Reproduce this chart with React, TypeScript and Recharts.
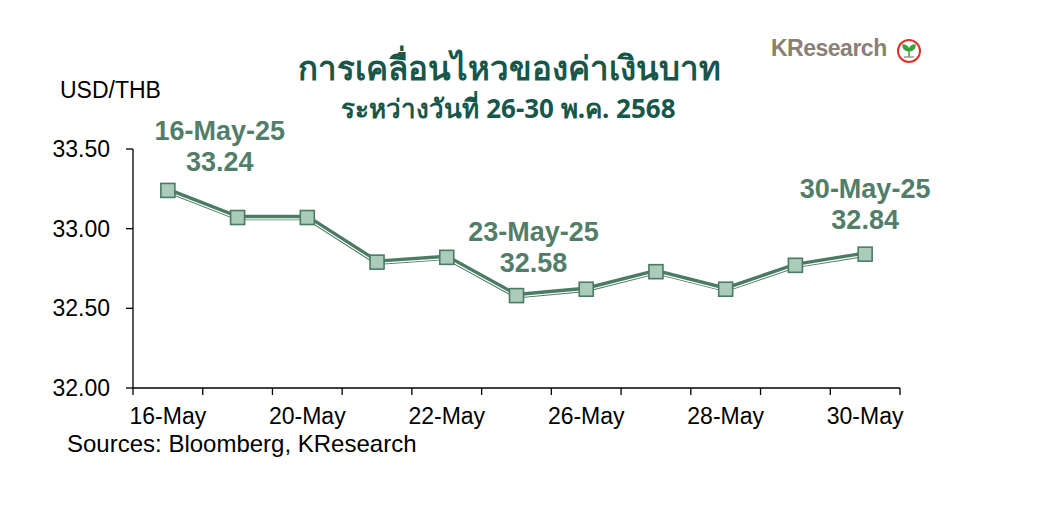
import { LineChart, XAxis, YAxis, Line, LabelList } from 'recharts';

const dates = ['16-May', '19-May', '20-May', '21-May', '22-May', '23-May', '26-May', '27-May', '28-May', '29-May', '30-May'];
const usdThb = [33.24, 33.07, 33.07, 32.79, 32.82, 32.58, 32.62, 32.73, 32.62, 32.77, 32.84];
const yTicks = [32, 32.5, 33, 33.5];
const noteIndex = [0, 5, 10];
const noteDates = ['16-May-25', '23-May-25', '30-May-25'];

const data = dates.map((d, i) => ({ idx: i, date: d, rate: usdThb[i] }));
const xTicks: number[] = [];
for (let i = -0.5; i <= dates.length - 0.5; i += 0.5) xTicks.push(i);

const DARK = '#4b7b63';
const FILL = '#abcbbb';
const NOTE = '#527e69';
const TITLE = '#17574a';
const FONT = '"Liberation Sans", Arial, sans-serif';

const XTick = (props: any) => {
	const { x, y, payload } = props;
	const v = payload.value as number;
	if (v % 1 !== 0) {
		return <line x1={x} x2={x} y1={y} y2={y + 7} stroke='#000' strokeWidth={1.3} />;
	}
	if (v % 2 !== 0) return null;
	return (
		<text x={x} y={y + 36} textAnchor='middle' fontSize={23} fontFamily={FONT} fill='#000'>
			{dates[v]}
		</text>
	);
};

const SquareDot = (props: any) => {
	const { cx, cy, index } = props;
	return <rect key={index} x={cx - 7} y={cy - 7} width={14} height={14} fill={FILL} stroke={DARK} strokeWidth={1.6} />;
};

const noteOffset: Record<number, number> = { 0: 52, 5: 17, 10: 0 };
const noteLift: Record<number, number> = { 0: 59, 5: 64, 10: 65 };

const NoteLabel = (props: any) => {
	const { x, y, index } = props;
	const k = noteIndex.indexOf(index);
	if (k < 0) return null;
	const cx = x + noteOffset[index];
	const top = y - noteLift[index];
	return (
		<g>
			<text x={cx} y={top + 9} textAnchor='middle' fontSize={27} fontWeight='bold' fontFamily={FONT} fill={NOTE}>
				{noteDates[k]}
			</text>
			<text x={cx} y={top + 40} textAnchor='middle' fontSize={27} fontWeight='bold' fontFamily={FONT} fill={NOTE}>
				{usdThb[index].toFixed(2)}
			</text>
		</g>
	);
};

export default function App() {
	return (
		<div style={{ position: 'relative', width: 1021, height: 500, fontFamily: FONT }}>
			<div style={{ position: 'absolute', left: -9, width: 1021, top: 38, textAlign: 'center', color: TITLE, fontWeight: 'bold', fontSize: 33, fontFamily: '"Noto Sans", "DejaVu Sans", sans-serif', lineHeight: '44px' }}>
				การเคลื่อนไหวของค่าเงินบาท
			</div>
			<div style={{ position: 'absolute', left: -10, width: 1021, top: 84, textAlign: 'center', color: TITLE, fontWeight: 'bold', fontSize: 26, fontFamily: '"Noto Sans", "DejaVu Sans", sans-serif', lineHeight: '32px' }}>
				ระหว่างวันที่ 26-30 พ.ค. 2568
			</div>
			<div style={{ position: 'absolute', left: 763, top: 27, color: '#8b8075', fontWeight: 'bold', fontSize: 23, letterSpacing: -0.5 }}>
				KResearch
			</div>
			<svg style={{ position: 'absolute', left: 888, top: 30 }} width={26} height={26}>
				<circle cx={13} cy={13} r={11} fill='#fff' stroke='#e0312b' strokeWidth={2} />
				<path d='M13 19 L13 12 M13 13 C9 13 7 10 7 7 C11 7 13 10 13 13 M13 13 C17 13 19 10 19 7 C15 7 13 10 13 13' stroke='#3aa03a' strokeWidth={1.5} fill='#3aa03a' />
				<path d='M8 19 L18 19' stroke='#999' strokeWidth={1.5} />
			</svg>
			<div style={{ position: 'absolute', left: 52, top: 69, fontSize: 23, color: '#000' }}>USD/THB</div>
			<div style={{ position: 'absolute', left: 59, top: 422, fontSize: 24, color: '#000' }}>Sources: Bloomberg, KResearch</div>
			<LineChart
				width={1021}
				height={500}
				data={data}
				margin={{ top: 141, right: 129, left: 0, bottom: 90 }}
				style={{ position: 'absolute', left: 0, top: 0 }}
			>
				<XAxis
					dataKey='idx'
					type='number'
					domain={[-0.5, dates.length - 0.5]}
					ticks={xTicks}
					interval={0}
					tick={<XTick />}
					tickLine={false}
					tickSize={0}
					tickMargin={0}
					height={30}
					stroke='#000'
					strokeWidth={1.3}
					allowDataOverflow
				/>
				<YAxis
					domain={[32, 33.5]}
					ticks={yTicks}
					width={125}
					tickSize={7}
					tickMargin={16}
					tickFormatter={(v: number) => v.toFixed(2)}
					tick={{ fill: '#000', fontSize: 23, fontFamily: FONT }}
					stroke='#000'
					strokeWidth={1.3}
					allowDataOverflow
				/>
				<Line dataKey='rate' stroke={DARK} strokeWidth={5.5} dot={false} isAnimationActive={false} />
				<Line dataKey='rate' stroke='#ffffff' strokeWidth={1.2} dot={false} isAnimationActive={false} style={{ transform: 'translateY(1.3px)' }} />
				<Line dataKey='rate' stroke='none' strokeWidth={0} dot={<SquareDot />} activeDot={false} isAnimationActive={false}>
					<LabelList dataKey='rate' content={<NoteLabel />} />
				</Line>
			</LineChart>
		</div>
	);
}
